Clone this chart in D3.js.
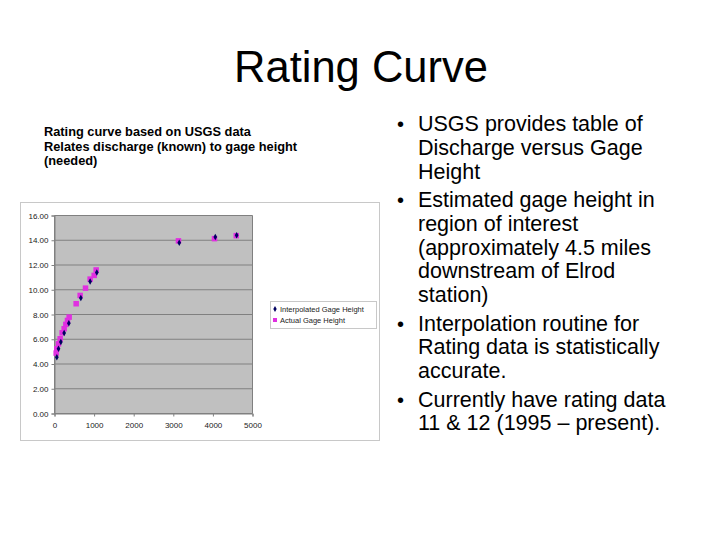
<!DOCTYPE html>
<html><head><meta charset="utf-8">
<script src="https://cdn.jsdelivr.net/npm/d3@7"></script>
<style>body{margin:0;background:#fff;}svg{display:block;}</style>
</head><body>
<svg id="c" width="720" height="540"></svg>
<script>
const actualQ = [42, 59, 101, 143, 194, 244, 286, 328, 370, 547, 648, 783, 900, 1002, 1052, 3130, 4040, 4590];
const actualH = [4.88, 5.23, 5.63, 6.04, 6.52, 6.85, 7.2, 7.52, 7.79, 8.87, 9.54, 10.13, 10.86, 11.16, 11.6, 13.95, 14.13, 14.37];
const interpQ = [59, 101, 160, 244, 362, 665, 900, 1069, 3150, 4060, 4600];
const interpH = [4.55, 5.23, 5.77, 6.5, 7.3, 9.33, 10.67, 11.4, 13.8, 14.26, 14.4];
const xTicks = [0, 1000, 2000, 3000, 4000, 5000];
const yTicks = [0, 2, 4, 6, 8, 10, 12, 14, 16];
const seriesNames = ["Interpolated Gage Height", "Actual Gage Height"];
const bullets = [
  ["USGS provides table of", "Discharge versus Gage", "Height"],
  ["Estimated gage height in", "region of interest", "(approximately 4.5 miles", "downstream of Elrod", "station)"],
  ["Interpolation routine for", "Rating data is statistically", "accurate."],
  ["Currently have rating data", "11 & 12 (1995 \u2013 present)."]
];
const noteLines = ["Rating curve based on USGS data", "Relates discharge (known) to gage height", "(needed)"];

const svg = d3.select("#c");
const F = "Liberation Sans, Arial, sans-serif";

svg.append("text").attr("x", 361).attr("y", 82).attr("text-anchor", "middle")
  .attr("font-family", F).attr("font-size", 43.5).attr("fill", "#000").text("Rating Curve");

const noteY = [136, 151, 165];
noteLines.forEach((t, i) => svg.append("text").attr("x", 44).attr("y", noteY[i])
  .attr("font-family", F).attr("font-size", 12.8).attr("font-weight", "bold").attr("fill", "#000").text(t));

// bullets
let by = 131;
bullets.forEach((lines, bi) => {
  svg.append("text").attr("x", 397).attr("y", by).attr("font-family", F).attr("font-size", 20).text("\u2022");
  lines.forEach((l, li) => {
    svg.append("text").attr("x", 418).attr("y", by + li * 23.8).attr("font-family", F)
      .attr("font-size", 21.5).attr("fill", "#000").text(l);
  });
  by += lines.length * 23.8 + 4.6;
});

// chart frame
svg.append("rect").attr("x", 20.5).attr("y", 202.5).attr("width", 359).attr("height", 238)
  .attr("fill", "#fff").attr("stroke", "#c8c8c8");

const x = d3.scaleLinear().domain([0, 5000]).range([54.5, 252.5]);
const y = d3.scaleLinear().domain([0, 16]).range([413.5, 215.5]);

svg.append("rect").attr("x", x(0)).attr("y", y(16)).attr("width", x(5000) - x(0)).attr("height", y(0) - y(16))
  .attr("fill", "#c0c0c0");
const g = svg.append("g");
g.selectAll("line.grid").data(yTicks).join("line").attr("class", "grid")
  .attr("x1", x(0)).attr("x2", x(5000)).attr("y1", d => y(d)).attr("y2", d => y(d))
  .attr("stroke", "#808080").attr("stroke-width", 1);
svg.append("line").attr("x1", x(5000)).attr("x2", x(5000)).attr("y1", y(16)).attr("y2", y(0)).attr("stroke", "#808080");
svg.append("line").attr("x1", x(0)).attr("x2", x(0)).attr("y1", y(16)).attr("y2", y(0)).attr("stroke", "#808080");

const yAxis = svg.append("g").attr("transform", `translate(${x(0)},0)`)
  .call(d3.axisLeft(y).tickValues(yTicks).tickFormat(d3.format(".2f")).tickSize(3).tickPadding(3));
const xAxis = svg.append("g").attr("transform", `translate(0,${y(0)})`)
  .call(d3.axisBottom(x).tickValues(xTicks).tickFormat(d3.format("d")).tickSize(3).tickPadding(6));
[yAxis, xAxis].forEach(a => {
  a.select(".domain").attr("stroke", "#808080");
  a.selectAll(".tick line").attr("stroke", "#808080");
  a.selectAll("text").attr("font-family", F).attr("font-size", 8).attr("fill", "#222");
});

const actual = actualQ.map((q, i) => [q, actualH[i]]);
const interp = interpQ.map((q, i) => [q, interpH[i]]);
svg.append("g").selectAll("rect").data(actual).join("rect")
  .attr("x", d => x(d[0]) - 2.75).attr("y", d => y(d[1]) - 2.75).attr("width", 5.5).attr("height", 5.5)
  .attr("fill", "#e030e0");
svg.append("g").selectAll("path").data(interp).join("path")
  .attr("transform", d => `translate(${x(d[0])},${y(d[1])})`)
  .attr("d", d3.symbol(d3.symbolDiamond, 12)).attr("fill", "#000060");

// legend
svg.append("rect").attr("x", 270.5).attr("y", 301.5).attr("width", 106).attr("height", 27)
  .attr("fill", "#fff").attr("stroke", "#c8c8c8");
svg.append("path").attr("transform", "translate(275,309)").attr("d", d3.symbol(d3.symbolDiamond, 10)).attr("fill", "#000060");
svg.append("rect").attr("x", 273).attr("y", 318).attr("width", 4).attr("height", 4).attr("fill", "#e030e0");
seriesNames.forEach((n, i) => svg.append("text").attr("x", 280).attr("y", 312 + i * 11)
  .attr("font-family", F).attr("font-size", 7.5).attr("fill", "#222").text(n));
</script>
</body></html>
